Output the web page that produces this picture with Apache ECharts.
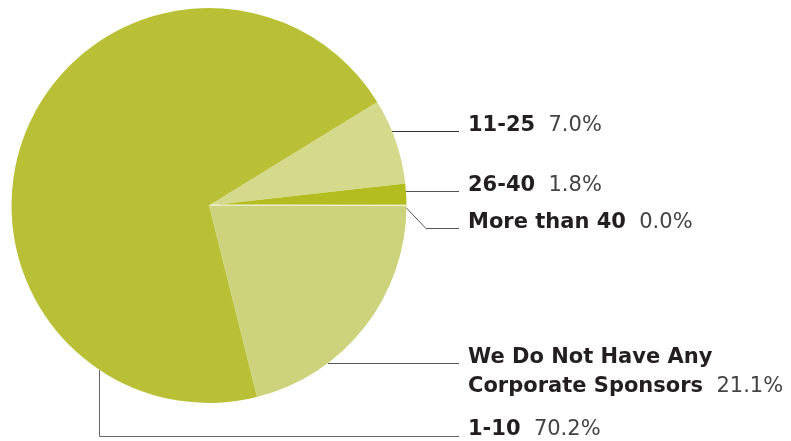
<!DOCTYPE html>
<html>
<head>
<meta charset="utf-8">
<script src="https://cdn.jsdelivr.net/npm/echarts@6/dist/echarts.min.js"></script>
<style>
  html, body { margin: 0; padding: 0; background: #fff; }
  #chart { width: 791px; height: 441px; }
</style>
</head>
<body>
<div id="chart"></div>
<script>
// Number of corporate sponsors (share of respondents, %)
const categories = ['11-25', '26-40', 'More than 40', 'We Do Not Have Any\nCorporate Sponsors', '1-10'];
const shares = [7.0, 1.8, 0.0, 21.1, 70.2];
const sliceColors = ['#d5d98b', '#b3bd1f', '#ffffff', '#cdd37c', '#b9c035'];

// Leader-line routes and label anchors, one per slice
const labelSpots = [
  { y: 126, line: [[392, 131.5], [392, 131.5], [459, 131.5]], lineColor: '#333333' },
  { y: 186, line: [[405, 191.5], [405, 191.5], [459, 191.5]], lineColor: '#555555' },
  { y: 223, line: [[406, 207.5], [426, 228.5], [459, 228.5]], lineColor: '#555555' },
  { y: 372, line: [[328, 363.5], [328, 363.5], [459, 363.5]], lineColor: '#555555' },
  { y: 430, line: [[99.5, 370], [99.5, 436.5], [459, 436.5]], lineColor: '#666666' }
];
const labelX = 468;

const chart = echarts.init(document.getElementById('chart'), null, { renderer: 'canvas' });

const seriesData = categories.map((name, i) => ({
  name: name,
  value: shares[i],
  itemStyle: i === 2
    ? { color: '#ffffff', borderColor: '#ffffff', borderWidth: 2 }
    : { color: sliceColors[i] },
  labelLine: { lineStyle: { color: labelSpots[i].lineColor, width: 1 } }
}));

chart.setOption({
  animation: false,
  series: [{
    type: 'pie',
    center: [209, 205.5],
    radius: 197.5,
    startAngle: 31.6,
    clockwise: true,
    avoidLabelOverlap: false,
    emphasis: { disabled: true },
    data: seriesData,
    label: {
      show: true,
      position: 'outside',
      formatter: (p) => {
        const nameParts = p.name.split('\n').map(s => '{n|' + s + '}');
        return nameParts.join('\n') + '{v|  ' + p.value.toFixed(1) + '%}';
      },
      rich: {
        n: { fontFamily: 'DejaVu Sans', fontWeight: 'bold', fontSize: 21, color: '#231f20', lineHeight: 29 },
        v: { fontFamily: 'DejaVu Sans', fontWeight: 'normal', fontSize: 21, color: '#444444', lineHeight: 29 }
      }
    },
    labelLine: { show: true, smooth: false },
    labelLayout: (params) => {
      const spot = labelSpots[params.dataIndex];
      return {
        x: labelX,
        y: spot.y,
        align: 'left',
        verticalAlign: 'middle',
        labelLinePoints: spot.line
      };
    }
  }]
});
</script>
</body>
</html>
